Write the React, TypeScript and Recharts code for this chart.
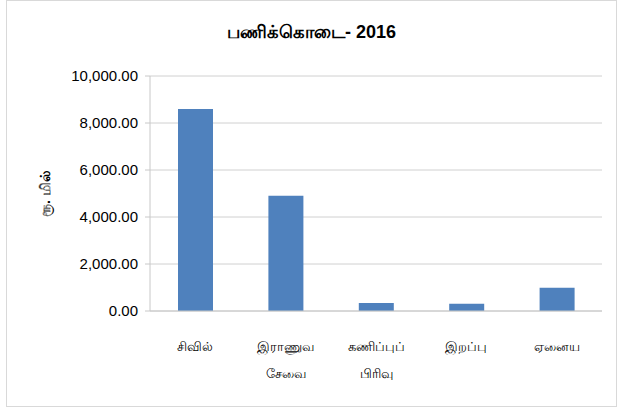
import { Bar, BarChart, CartesianGrid, XAxis, YAxis } from 'recharts'

const categories = ['சிவில்', 'இராணுவ சேவை', 'கணிப்புப் பிரிவு', 'இறப்பு', 'ஏனைய']
const tickLines = [['சிவில்'], ['இராணுவ', 'சேவை'], ['கணிப்புப்', 'பிரிவு'], ['இறப்பு'], ['ஏனைய']]
const values = [8600, 4900, 340, 310, 990]
const yTicks = [0, 2000, 4000, 6000, 8000, 10000]

const FONT = '"Liberation Sans", Arial, "Noto Sans", sans-serif'

const rows = categories.map((name, i) => ({ name, value: values[i] }))

interface TickProps { x?: number; y?: number; index?: number }

function CatTick({ x = 0, y = 0, index = 0 }: TickProps) {
  const lines = tickLines[index] ?? []
  return (
    <g transform={`translate(${x},${y})`}>
      {lines.map((l, k) => (
        <text key={k} x={0} y={0} dy={32 + k * 27} textAnchor="middle" fontSize={13} fill="#000" fontFamily={FONT}>
          {l}
        </text>
      ))}
    </g>
  )
}

const fmt = (v: number) => v.toLocaleString('en-US', { minimumFractionDigits: 2, maximumFractionDigits: 2 })

export default function App() {
  return (
    <div style={{ position: 'absolute', left: 6, top: 0, width: 611, height: 407, border: '1px solid #d9d9d9', boxSizing: 'border-box', background: '#fff', fontFamily: FONT }}>
      <div style={{ position: 'absolute', left: 0, right: 0, top: 21, textAlign: 'center', fontSize: 18, fontWeight: 'bold', color: '#000' }}>
        பணிக்கொடை- 2016
      </div>
      <BarChart width={609} height={405} data={rows} margin={{ top: 75, right: 14, bottom: 35, left: 0 }}>
        <CartesianGrid vertical={false} stroke="#d0d0d0" strokeWidth={1} />
        <XAxis dataKey="name" height={60} axisLine={{ stroke: '#c8c8c8' }} tickLine={false} tick={<CatTick />} interval={0} />
        <YAxis
          width={143}
          domain={[0, 10000]}
          ticks={yTicks}
          tickFormatter={fmt}
          axisLine={{ stroke: '#c8c8c8' }}
          tickLine={{ stroke: '#c8c8c8' }}
          tickSize={5}
          tickMargin={7}
          tick={{ fontSize: 15, fill: '#000', fontFamily: FONT }}
          label={{ value: 'ரூ. மில்', angle: -90, position: 'insideLeft', offset: 38, style: { fontSize: 14, fontWeight: 'bold', fill: '#000', fontFamily: FONT, textAnchor: 'middle' } }}
        />
        <Bar dataKey="value" fill="#4f81bd" barSize={35} isAnimationActive={false} />
      </BarChart>
    </div>
  )
}
